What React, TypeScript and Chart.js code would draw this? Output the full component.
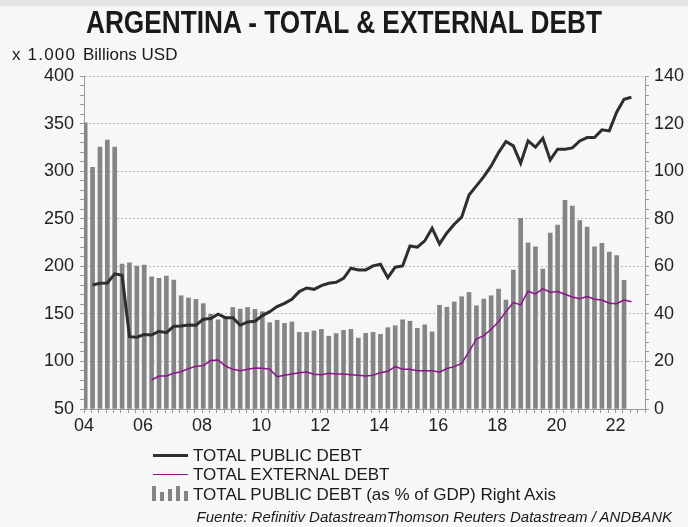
import React, { useEffect, useRef } from "react";
import { Chart, registerables } from "chart.js";

Chart.register(...registerables);

// ---- DATA ----
const FIRST_YEAR = 2004;
const LAST_YEAR = 2023;
const X_TICK_LABELS = ["04", "06", "08", "10", "12", "14", "16", "18", "20", "22"];
const LEFT_TICK_LABELS = [50, 100, 150, 200, 250, 300, 350, 400];
const RIGHT_TICK_LABELS = [0, 20, 40, 60, 80, 100, 120, 140];

// Total public debt as % of GDP (right axis), quarterly from 2004 Q1
const debtPctGdp = [
  120.3, 101.6, 110.1, 113.1, 110.1, 60.9, 61.5, 60.1, 60.5, 55.6, 54.9, 55.9,
  54.2, 47.6, 46.7, 46.1, 44.3, 39.8, 37.5, 38.1, 42.7, 42.0, 42.7, 41.9,
  40.9, 36.3, 37.3, 36.0, 36.6, 32.2, 32.2, 32.8, 33.5, 30.6, 31.7, 33.1,
  33.5, 29.8, 31.8, 32.2, 31.4, 34.2, 35.0, 37.5, 36.9, 33.9, 35.4, 32.4,
  43.6, 42.8, 45.0, 47.2, 49.0, 43.4, 46.2, 47.6, 50.4, 45.8, 58.4, 80.2,
  69.9, 68.2, 58.8, 74.0, 77.3, 87.7, 85.3, 79.2, 76.5, 68.2, 69.6, 66.0,
  64.5, 54.1,
];
const PCT_START_Q = 0;

// Total public debt, billions USD (left axis), quarterly from 2004 Q2
const totalPublicDebt = [
  180.4, 182.2, 182.5, 192.0, 190.6, 126.0, 125.4, 128.2, 127.8, 131.7, 130.2,
  136.9, 137.3, 138.3, 138.0, 144.3, 145.0, 149.6, 146.0, 146.0, 138.0, 141.5, 142.2,
  148.2, 152.3, 157.6, 161.1, 165.3, 173.4, 177.2, 175.8, 179.7, 182.2, 183.2, 187.4,
  198.0, 196.2, 196.2, 200.4, 202.1, 188.1, 199.0, 200.4, 221.4, 220.0, 226.7, 240.0,
  223.5, 235.0, 244.2, 251.6, 275.0, 284.5, 294.3, 305.5, 319.5, 331.1, 326.6, 308.4,
  331.8, 325.2, 334.6, 311.8, 323.1, 323.1, 324.4, 331.8, 335.3, 335.3, 343.4, 342.3,
  362.0, 375.6, 377.7,
];
const PUBLIC_START_Q = 1;

// Total external debt, billions USD (left axis), quarterly from 2006 Q2
const totalExternalDebt = [
  80.5, 84.7, 84.7, 87.5, 89.2, 92.4, 94.9, 95.6, 100.9, 101.5, 95.2, 91.7, 90.3,
  91.7, 93.1, 92.8, 91.7, 84.0, 85.4, 86.8, 88.2, 88.9, 86.5, 86.1, 87.5, 86.8,
  86.8, 86.1, 85.4, 84.7, 85.4, 88.2, 89.6, 94.5, 91.7, 91.7, 90.3, 90.3, 90.3,
  88.6, 92.6, 94.5, 98.0, 110.3, 123.6, 127.1, 133.8, 141.8, 152.3, 161.8, 159.4,
  173.8, 170.9, 176.3, 172.7, 173.4, 170.6, 167.8, 166.0, 168.1, 165.4, 164.6, 161.1,
  160.7, 164.6, 162.8,
];
const EXTERNAL_START_Q = 9;

const SERIES_NAMES = [
  "TOTAL PUBLIC DEBT",
  "TOTAL EXTERNAL DEBT",
  "TOTAL PUBLIC DEBT (as % of GDP) Right Axis",
];
const TITLE = "ARGENTINA - TOTAL & EXTERNAL DEBT";
const UNIT_PREFIX = "x 1.000";
const UNIT_LABEL = "Billions USD";
const SOURCE = "Fuente: Refinitiv DatastreamThomson Reuters Datastream / ANDBANK";

// ---- STYLE ----
const FONT = '"Liberation Sans", Arial, sans-serif';
const BG = "#f7f7f7";
const FRAME = "#e4e4e4";
const BAR_COLOR = "#858585";
const PUBLIC_COLOR = "#2e2e2e";
const EXTERNAL_COLOR = "#8e1190";
const AXIS_COLOR = "#9a9a9a";
const GRID_COLOR = "#b8b8b8";

const quarterX = (q: number) => FIRST_YEAR + q * 0.25 + 0.04;
const toPoints = (vals: number[], startQ: number) =>
  vals.map((v, i) => ({ x: quarterX(startQ + i), y: v }));

export default function App() {
  const canvasRef = useRef<HTMLCanvasElement | null>(null);

  useEffect(() => {
    document.body.style.margin = "0";
    document.body.style.background = BG;
    const canvas = canvasRef.current;
    if (!canvas) return;
    const isMajor = (v: number, step: number) => Math.abs(v / step - Math.round(v / step)) < 1e-6;

    const chart = new Chart(canvas, {
      type: "bar",
      data: {
        datasets: [
          {
            type: "line",
            label: SERIES_NAMES[0],
            data: toPoints(totalPublicDebt, PUBLIC_START_Q),
            borderColor: PUBLIC_COLOR,
            borderWidth: 3,
            pointRadius: 0,
            tension: 0,
            yAxisID: "y",
            order: 1,
          } as any,
          {
            type: "line",
            label: SERIES_NAMES[1],
            data: toPoints(totalExternalDebt, EXTERNAL_START_Q),
            borderColor: EXTERNAL_COLOR,
            borderWidth: 1.5,
            pointRadius: 0,
            tension: 0,
            yAxisID: "y",
            order: 2,
          } as any,
          {
            type: "bar",
            label: SERIES_NAMES[2],
            data: toPoints(debtPctGdp, PCT_START_Q),
            backgroundColor: BAR_COLOR,
            barThickness: 4,
            yAxisID: "y1",
            order: 3,
          } as any,
        ],
      },
      options: {
        animation: false,
        responsive: false,
        devicePixelRatio: 1,
        layout: { padding: { left: 0, right: 0, top: 76, bottom: 0 } },
        plugins: { legend: { display: false }, title: { display: false }, tooltip: { enabled: false } },
        scales: {
          x: {
            type: "linear",
            min: FIRST_YEAR,
            max: LAST_YEAR,
            offset: false,
            afterFit: (s: any) => {
              s.height = 118;
            },
            grid: {
              offset: false,
              drawOnChartArea: false,
              drawTicks: true,
              tickLength: 4,
              tickColor: AXIS_COLOR,
            },
            border: { display: true, color: AXIS_COLOR, width: 1 },
            ticks: {
              stepSize: 0.25,
              autoSkip: false,
              maxRotation: 0,
              minRotation: 0,
              padding: 2,
              color: "#222",
              font: { family: FONT, size: 18 },
              callback: (value: any) => {
                const v = Number(value);
                if (!isMajor(v, 2)) return "";
                const idx = Math.round((v - FIRST_YEAR) / 2);
                return X_TICK_LABELS[idx] ?? "";
              },
            },
          },
          y: {
            type: "linear",
            position: "left",
            min: LEFT_TICK_LABELS[0],
            max: LEFT_TICK_LABELS[LEFT_TICK_LABELS.length - 1],
            afterFit: (s: any) => {
              s.width = 84;
            },
            grid: {
              drawOnChartArea: true,
              drawTicks: true,
              tickLength: 4,
              tickColor: AXIS_COLOR,
              color: (ctx: any) =>
                ctx.tick && isMajor(ctx.tick.value, 50) && ctx.tick.value > LEFT_TICK_LABELS[0]
                  ? GRID_COLOR
                  : "rgba(0,0,0,0)",
              lineWidth: 1,
            },
            border: { display: true, color: AXIS_COLOR, width: 1, dash: [2, 2] },
            ticks: {
              stepSize: 10,
              autoSkip: false,
              padding: 6,
              color: "#222",
              font: { family: FONT, size: 18 },
              callback: (value: any) => {
                const v = Number(value);
                return LEFT_TICK_LABELS.includes(v) ? String(v) : "";
              },
            },
          },
          y1: {
            type: "linear",
            position: "right",
            min: RIGHT_TICK_LABELS[0],
            max: RIGHT_TICK_LABELS[RIGHT_TICK_LABELS.length - 1],
            afterFit: (s: any) => {
              s.width = 43;
            },
            grid: {
              drawOnChartArea: false,
              drawTicks: true,
              tickLength: 4,
              tickColor: AXIS_COLOR,
            },
            border: { display: true, color: AXIS_COLOR, width: 1 },
            ticks: {
              stepSize: 4,
              autoSkip: false,
              padding: 5,
              color: "#222",
              font: { family: FONT, size: 18 },
              callback: (value: any) => {
                const v = Number(value);
                return RIGHT_TICK_LABELS.includes(v) ? String(v) : "";
              },
            },
          },
        },
      } as any,
    });
    return () => chart.destroy();
  }, []);

  const text: React.CSSProperties = { position: "absolute", whiteSpace: "nowrap", color: "#1a1a1a" };

  return (
    <div style={{ position: "relative", width: 688, height: 527, background: BG, overflow: "hidden" }}>
      <div style={{ position: "absolute", left: 0, top: 0, width: 688, height: 6, background: FRAME }} />
      <canvas ref={canvasRef} width={688} height={527} style={{ position: "absolute", left: 0, top: 0 }} />
      <div
        style={{
          ...text,
          left: 0,
          width: 688,
          top: 6,
          textAlign: "center",
          fontFamily: FONT,
          fontWeight: "bold",
          fontSize: 32,
          lineHeight: "32px",
          transform: "translateX(0px) scaleX(0.82)",
          transformOrigin: "344px 50%",
        }}
      >
        {TITLE}
      </div>
      <div
        style={{ ...text, left: 12, top: 46, fontFamily: FONT, fontSize: 17, lineHeight: "17px", letterSpacing: 1.2 }}
      >
        {UNIT_PREFIX}
      </div>
      <div style={{ ...text, left: 83, top: 46, fontFamily: FONT, fontSize: 17, lineHeight: "17px" }}>
        {UNIT_LABEL}
      </div>
      {/* legend */}
      <div style={{ position: "absolute", left: 153, top: 454, width: 35, height: 3, background: PUBLIC_COLOR }} />
      <div style={{ ...text, left: 193, top: 446.5, fontFamily: FONT, fontSize: 17, lineHeight: "17px" }}>
        {SERIES_NAMES[0]}
      </div>
      <div style={{ position: "absolute", left: 153, top: 473.5, width: 35, height: 1.5, background: EXTERNAL_COLOR }} />
      <div style={{ ...text, left: 193, top: 465.5, fontFamily: FONT, fontSize: 17, lineHeight: "17px" }}>
        {SERIES_NAMES[1]}
      </div>
      <div
        style={{
          position: "absolute",
          left: 152,
          top: 486,
          width: 36,
          height: 15,
          display: "flex",
          alignItems: "flex-end",
          gap: 4,
        }}
      >
        {[15, 9, 12, 15, 10].map((h, i) => (
          <div key={i} style={{ width: 4, height: h, background: BAR_COLOR }} />
        ))}
      </div>
      <div style={{ ...text, left: 193, top: 485.5, fontFamily: FONT, fontSize: 17, lineHeight: "17px" }}>
        {SERIES_NAMES[2]}
      </div>
      <div
        style={{
          ...text,
          right: 16,
          top: 509,
          fontFamily: FONT,
          fontStyle: "italic",
          fontSize: 15,
          lineHeight: "15px",
        }}
      >
        {SOURCE}
      </div>
    </div>
  );
}
